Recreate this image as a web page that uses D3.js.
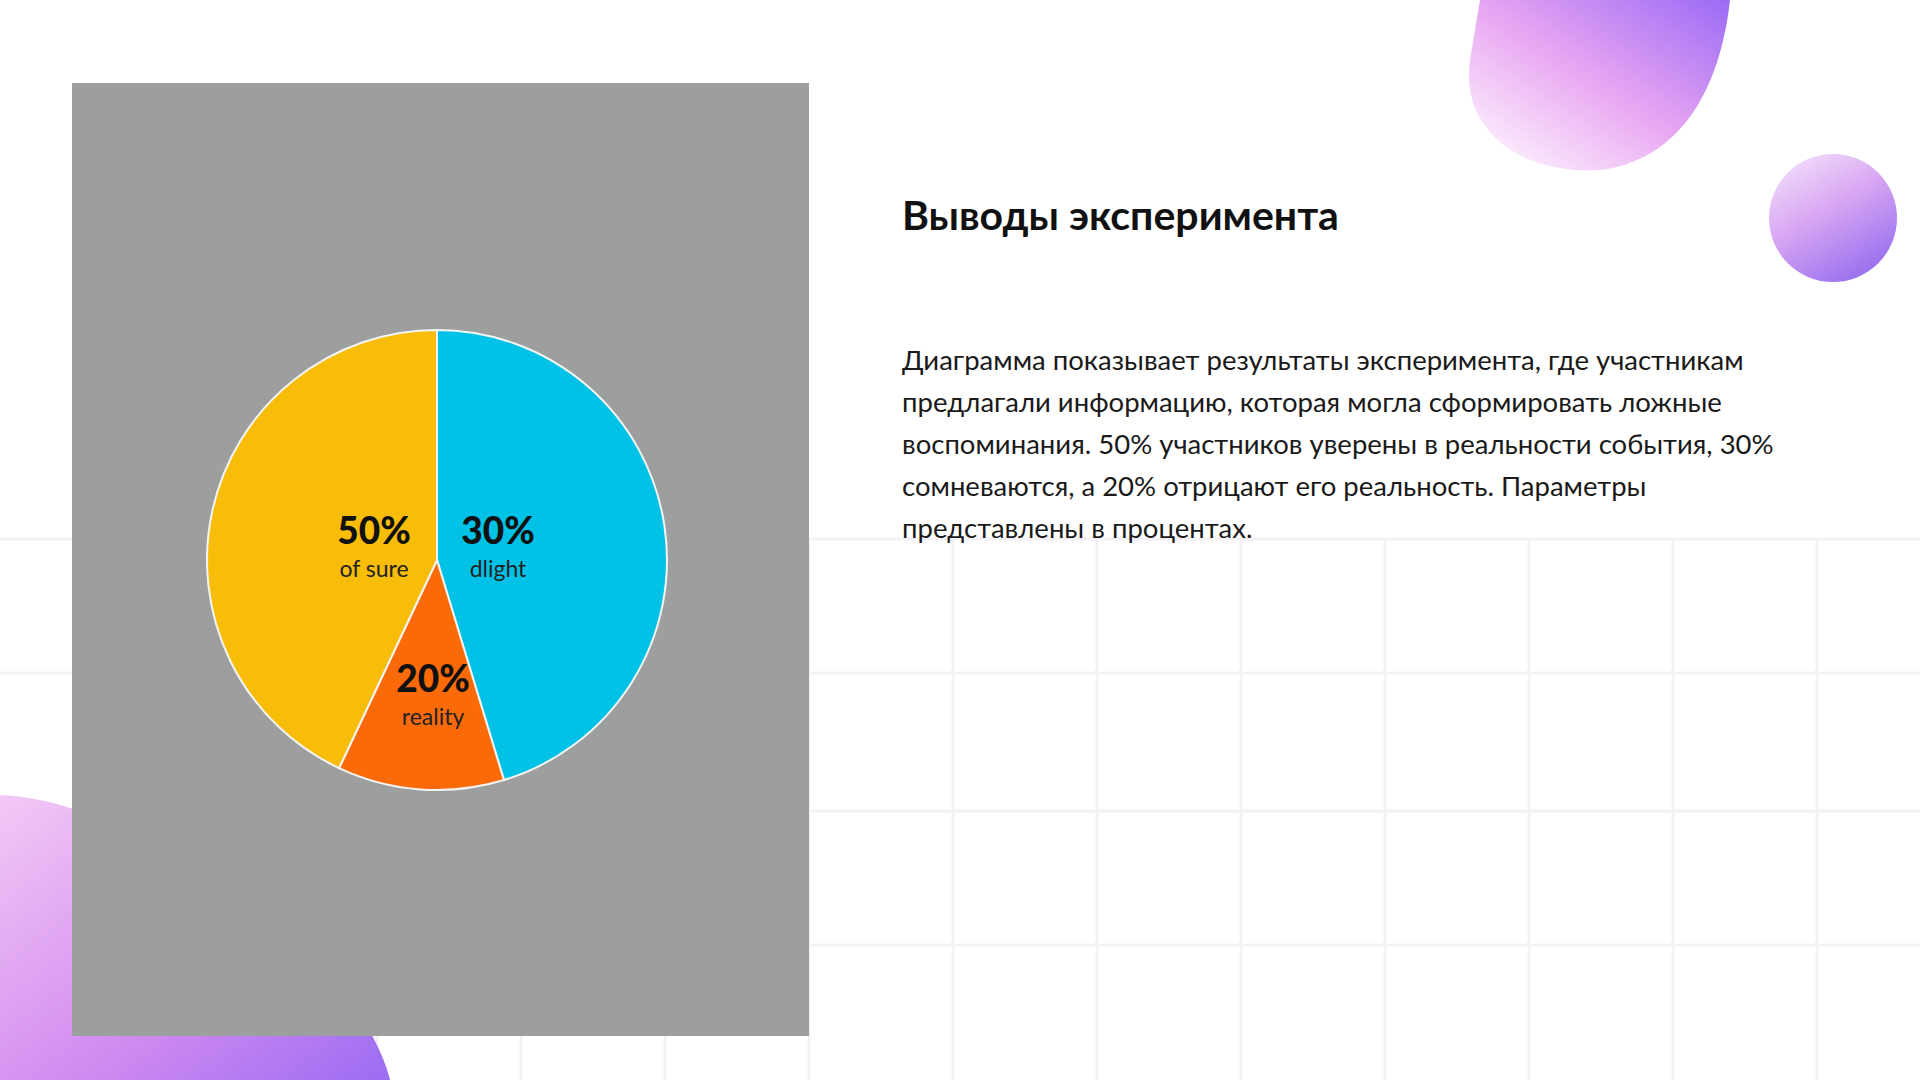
<!DOCTYPE html>
<html><head><meta charset="utf-8">
<script src="https://cdn.jsdelivr.net/npm/d3@7"></script>
<style>body{margin:0;background:#fff;overflow:hidden}svg{display:block}</style>
</head><body><svg id="c" width="1920" height="1080"></svg>
<script>
const categories = ["dlight","reality","of sure"];
const sliceValues = [45.3, 11.7, 43.0];
const pctLabels = ["30%","20%","50%"];
const colors = ["#00c2e6","#fb6a09","#f8bd09"];
const title = "Выводы эксперимента";
const bodyLines = [
 "Диаграмма показывает результаты эксперимента, где участникам",
 "предлагали информацию, которая могла сформировать ложные",
 "воспоминания. 50% участников уверены в реальности события, 30%",
 "сомневаются, а 20% отрицают его реальность. Параметры",
 "представлены в процентах."
];
const svg = d3.select("#c");
const defs = svg.append("defs");
function grad(id, stops, x1,y1,x2,y2){
  const g=defs.append("linearGradient").attr("id",id).attr("x1",x1).attr("y1",y1).attr("x2",x2).attr("y2",y2);
  stops.forEach(s=>g.append("stop").attr("offset",s[0]).attr("stop-color",s[1]).attr("stop-opacity",s[2]));
}
grad("gb",[[0,"#fff",1],[0.5,"#e9a6f2",1],[1,"#9a6af5",1]],"0","1","1","0");
grad("gs",[[0,"#f6e8fb",1],[0.5,"#d9a8f3",1],[1,"#9d73ef",1]],"0","0","0.6","1");
grad("gl",[[0,"#f3c8f5",1],[0.6,"#d18af0",1],[1,"#9b6cf3",1]],"0","0","1","1");
const gg=svg.append("g").attr("stroke","#f3f1f6").attr("stroke-width",3);
d3.range(0,1920,144).forEach(x=>gg.append("line").attr("x1",x+89).attr("x2",x+89).attr("y1",540).attr("y2",1080));
[539,673,811,945].forEach(y=>gg.append("line").attr("x1",0).attr("x2",1920).attr("y1",y).attr("y2",y));
svg.append("path").attr("d","M1480,0 L1730,0 C1720,90 1680,160 1600,170 C1520,175 1460,130 1470,60 Z").attr("fill","url(#gb)");
svg.append("circle").attr("cx",1833).attr("cy",218).attr("r",64).attr("fill","url(#gs)");
svg.append("path").attr("d","M0,795 C120,800 240,900 330,980 C370,1020 385,1060 390,1080 L0,1080 Z").attr("fill","url(#gl)");
svg.append("rect").attr("x",72).attr("y",83).attr("width",737).attr("height",953).attr("fill","#9d9e9e");
const cx=437, cy=560, r=230;
const pie=d3.pie().sort(null).value(d=>d)(sliceValues);
const arc=d3.arc().innerRadius(0).outerRadius(r);
const pg=svg.append("g").attr("transform",`translate(${cx},${cy})`);
pg.selectAll("path").data(pie).join("path").attr("d",arc).attr("fill",(d,i)=>colors[i]).attr("stroke","#f4f4f4").attr("stroke-width",2);
const labelPos=[[61,-16],[-4,132],[-63,-16]];
pie.forEach((d,i)=>{
  const [dx,dy]=labelPos[i];
  pg.append("text").attr("x",dx).attr("y",dy).attr("text-anchor","middle").attr("font-family","Lato, sans-serif").attr("font-weight",900).attr("font-size",37).attr("fill","#111").text(pctLabels[i]);
  pg.append("text").attr("x",dx).attr("y",dy+33).attr("text-anchor","middle").attr("font-family","Lato, sans-serif").attr("font-size",23).attr("fill","#222").text(categories[i]);
});
svg.append("text").attr("x",902).attr("y",230).attr("font-family","Lato, sans-serif").attr("font-weight",700).attr("font-size",41).attr("fill","#111").text(title);
bodyLines.forEach((l,i)=>svg.append("text").attr("x",902).attr("y",370+i*42).attr("font-family","Lato, sans-serif").attr("font-size",27.5).attr("fill","#1a1a1a").text(l));
</script></body></html>
